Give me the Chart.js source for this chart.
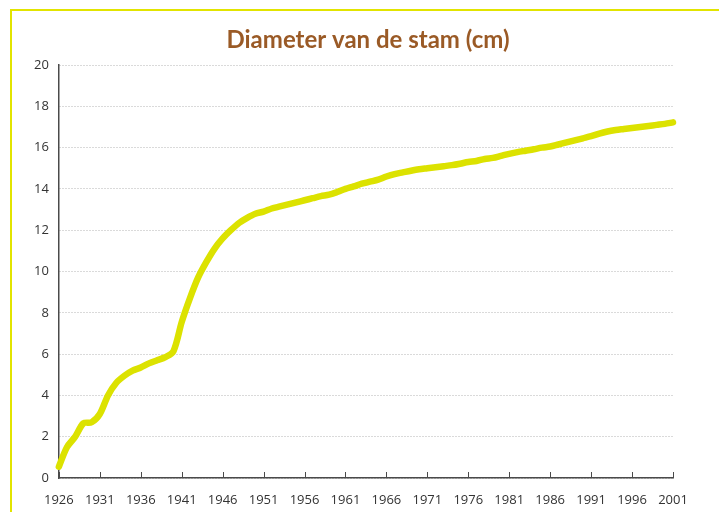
<!DOCTYPE html>
<html>
<head>
<meta charset="utf-8">
<script src="https://cdn.jsdelivr.net/npm/chart.js@4/dist/chart.umd.min.js"></script>
<style>
    html, body { margin: 0; padding: 0; background: #fff; }
    #wrap { position: relative; width: 719px; height: 512px; overflow: hidden; }
    #frame {
        position: absolute; left: 10px; top: 9px; width: 800px; height: 600px;
        border-left: 2px solid #e2e400; border-top: 2px solid #e2e400;
    }
    #chart { position: absolute; left: 0; top: 0; }
</style>
</head>
<body>
<div id="wrap">
    <div id="frame"></div>
    <canvas id="chart" width="719" height="512"></canvas>
</div>
<script>
const years = [];
for (let y = 1926; y <= 2001; y++) years.push(String(y));

const diameter = [
    0.55, 1.5, 2.0, 2.65, 2.7, 3.1, 4.0, 4.6, 4.95, 5.2,
    5.35, 5.55, 5.7, 5.85, 6.15, 7.55, 8.7, 9.7, 10.45, 11.1,
    11.6, 12.0, 12.35, 12.6, 12.8, 12.9, 13.05, 13.15, 13.25, 13.35,
    13.45, 13.55, 13.65, 13.72, 13.85, 14.0, 14.12, 14.25, 14.35, 14.45,
    14.6, 14.72, 14.8, 14.88, 14.95, 15.0, 15.05, 15.1, 15.15, 15.22,
    15.3, 15.35, 15.45, 15.5, 15.6, 15.7, 15.78, 15.85, 15.92, 16.0,
    16.05, 16.15, 16.25, 16.35, 16.45, 16.55, 16.68, 16.78, 16.85, 16.9,
    16.95, 17.0, 17.05, 17.1, 17.15, 17.22
];

const titleText = 'Diameter van de stam (cm)';

// titel zelf tekenen, zodat hij niet aan de plotbreedte vastzit
const titlePlugin = {
    id: 'titlePlugin',
    afterDraw: function (chart) {
        let ctx = chart.ctx;
        ctx.save();
        ctx.fillStyle = '#9a5a26';
        ctx.font = 'bold 24px Lato';
        ctx.textAlign = 'center';
        ctx.textBaseline = 'middle';
        ctx.fillText(titleText, 368, 40);
        ctx.restore();
    }
};

// kleine tickjes naar binnen op de x-as
const innerTicks = {
    id: 'innerTicks',
    afterDatasetsDraw: function (chart) {
        let x = chart.scales.x;
        let ctx = chart.ctx;
        ctx.save();
        ctx.strokeStyle = '#4a4a4a';
        ctx.lineWidth = 1;
        for (let i = 0; i < years.length; i += 5) {
            let px = Math.round(x.getPixelForValue(i)) + 0.5;
            ctx.beginPath();
            ctx.moveTo(px, x.top);
            ctx.lineTo(px, x.top - 6);
            ctx.stroke();
        }
        ctx.restore();
    }
};

new Chart(document.getElementById('chart'), {
    type: 'line',
    data: {
        labels: years,
        datasets: [{
            data: diameter,
            borderColor: '#dce200',
            borderWidth: 6.5,
            pointRadius: 0,
            tension: 0.3,
            borderCapStyle: 'round',
            borderJoinStyle: 'round',
            clip: false
        }]
    },
    options: {
        responsive: false,
        animation: false,
        layout: { padding: { left: 24, right: 46, top: 65, bottom: 0 } },
        plugins: {
            legend: { display: false },
            tooltip: { enabled: false },
            title: { display: false }
        },
        scales: {
            x: {
                offset: false,
                afterFit: function (scale) { scale.height = 34; },
                grid: { display: false, drawTicks: false },
                border: { display: true, color: '#4a4a4a', width: 1.5 },
                ticks: {
                    autoSkip: false,
                    maxRotation: 0,
                    padding: 14,
                    color: '#333',
                    font: { family: 'Open Sans', size: 13 },
                    callback: function (v, i) {
                        return i % 5 === 0 ? years[i] : '';
                    }
                }
            },
            y: {
                min: 0,
                max: 20,
                ticks: {
                    stepSize: 2,
                    padding: 10,
                    color: '#333',
                    font: { family: 'Open Sans', size: 13 }
                },
                grid: {
                    color: '#b4b4b4',
                    drawTicks: false,
                    lineWidth: 1
                },
                border: { display: true, color: '#4a4a4a', width: 1.5, dash: [1, 2] }
            }
        }
    },
    plugins: [titlePlugin, innerTicks]
});
</script>
</body>
</html>
